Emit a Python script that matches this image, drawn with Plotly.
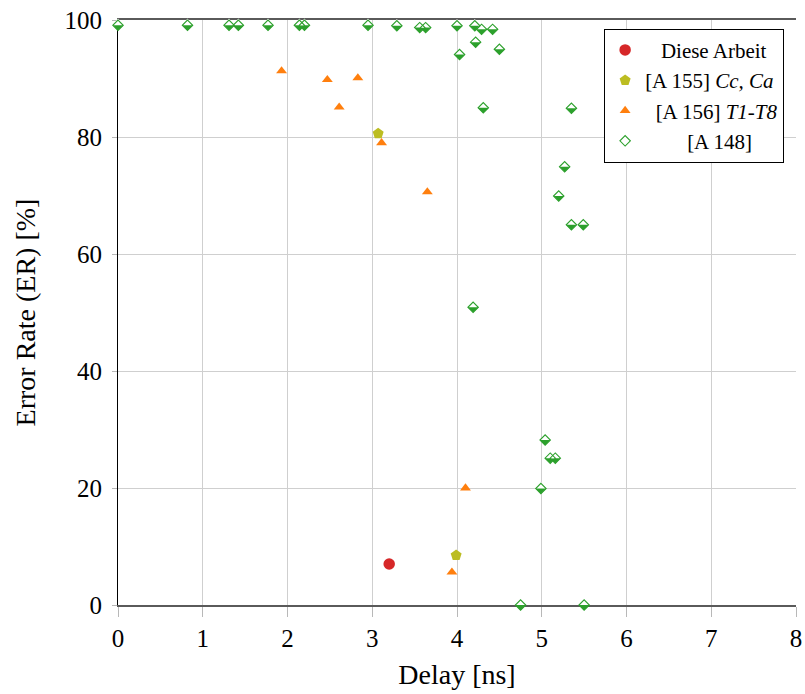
import plotly.graph_objects as go

# Error rate vs. delay for several works
diese_x = [3.20]
diese_y = [7.0]

a155_x = [3.07, 3.99]
a155_y = [80.6, 8.5]

a156_x = [1.93, 2.47, 2.61, 2.83, 3.11, 3.65, 4.10, 3.94]
a156_y = [91.3, 89.8, 85.1, 90.1, 79.0, 70.6, 20.0, 5.6]

a148_x = [0.00, 0.82, 1.31, 1.42, 1.77, 2.14, 2.20, 2.95, 3.29, 3.56, 3.63,
          4.00, 4.21, 4.29, 4.42, 4.22, 4.50, 4.03, 4.31, 5.35, 5.27, 5.20,
          5.35, 5.49, 4.19, 5.04, 5.10, 5.16, 4.99, 4.75, 5.50]
a148_y = [99.1, 99.1, 99.1, 99.1, 99.1, 99.1, 99.1, 99.1, 99.0, 98.7, 98.7,
          99.0, 99.0, 98.4, 98.4, 96.2, 95.0, 94.1, 85.0, 84.9, 74.9, 69.9,
          65.0, 65.0, 50.9, 28.2, 25.1, 25.1, 19.9, 0.0, 0.0]

x_ticks = [0, 1, 2, 3, 4, 5, 6, 7, 8]
y_ticks = [0, 20, 40, 60, 80, 100]

names = ["\u00a0\u00a0\u00a0Diese Arbeit",
         "[A 155] <i>Cc, Ca</i>",
         "\u00a0\u00a0[A 156] <i>T1-T8</i>",
         "\u00a0\u00a0\u00a0\u00a0\u00a0\u00a0\u00a0\u00a0[A 148]"]

RED, OLIVE, ORANGE, GREEN = "#d62728", "#bcbd22", "#ff7f0e", "#2ca02c"
FONT = "Liberation Serif"

D = 8.0                       # diamond marker size
T = 1.1255 * D                # white cover for the upper half
fig = go.Figure()

fig.add_trace(go.Scatter(x=diese_x, y=diese_y, mode="markers", name=names[0],
                         marker=dict(symbol="circle", size=11.5, color=RED),
                         cliponaxis=False, legendgroup="a"))
fig.add_trace(go.Scatter(x=a155_x, y=a155_y, mode="markers", name=names[1],
                         marker=dict(symbol="pentagon", size=11.5, color=OLIVE),
                         cliponaxis=False, legendgroup="b"))
fig.add_trace(go.Scatter(x=a156_x, y=a156_y, mode="markers", name=names[2],
                         marker=dict(symbol="triangle-up", size=9.5, color=ORANGE),
                         cliponaxis=False, legendgroup="c"))

# half-filled diamonds: green body, white upper half, green outline
fig.add_trace(go.Scatter(x=a148_x, y=a148_y, mode="markers", showlegend=False,
                         marker=dict(symbol="diamond", size=D, color=GREEN,
                                     line=dict(width=0)),
                         cliponaxis=False, legendgroup="d", hoverinfo="skip"))
fig.add_trace(go.Scatter(x=a148_x, y=a148_y, mode="markers", showlegend=False,
                         marker=dict(symbol="triangle-down", angle=180,
                                     standoff=T / 4, size=T, color="white",
                                     line=dict(width=0)),
                         cliponaxis=False, legendgroup="d", hoverinfo="skip"))
fig.add_trace(go.Scatter(x=a148_x, y=a148_y, mode="markers", name=names[3],
                         marker=dict(symbol="diamond-open", size=D, color=GREEN,
                                     line=dict(width=1.1, color=GREEN)),
                         cliponaxis=False, legendgroup="d"))

fig.update_layout(
    width=805, height=694,
    margin=dict(l=118, r=9, t=20, b=89),
    paper_bgcolor="white", plot_bgcolor="white",
    font=dict(family=FONT, color="black"),
    showlegend=True,
    legend=dict(x=0.717, y=0.985, xanchor="left", yanchor="top",
                bordercolor="black", borderwidth=1, bgcolor="white",
                font=dict(family=FONT, size=21, color="black"),
                traceorder="grouped", tracegroupgap=0),
    xaxis=dict(range=[0, 8], tickvals=x_ticks, ticktext=[str(v) for v in x_ticks],
               showgrid=True, gridcolor="#cfcfcf", gridwidth=1,
               ticks="outside", ticklen=10, tickcolor="#b8b8b8", tickwidth=1,
               showline=True, linecolor="#5a5a5a", linewidth=1.6, mirror=True,
               zeroline=False, layer="below traces", automargin=False,
               tickfont=dict(family=FONT, size=25),
               title=dict(text="Delay [ns]", font=dict(family=FONT, size=28),
                          standoff=14)),
    yaxis=dict(range=[0, 100], tickvals=y_ticks, ticktext=[str(v) for v in y_ticks],
               showgrid=True, gridcolor="#cfcfcf", gridwidth=1,
               ticks="outside", ticklen=5, tickcolor="#b8b8b8", tickwidth=1,
               showline=True, linecolor="black", linewidth=1, mirror=False,
               zeroline=False, layer="below traces", automargin=False,
               ticklabelstandoff=5,
               tickfont=dict(family=FONT, size=25),
               title=dict(text="Error Rate (ER) [%]", font=dict(family=FONT, size=28),
                          standoff=20)),
)

fig.write_html("out.html")
